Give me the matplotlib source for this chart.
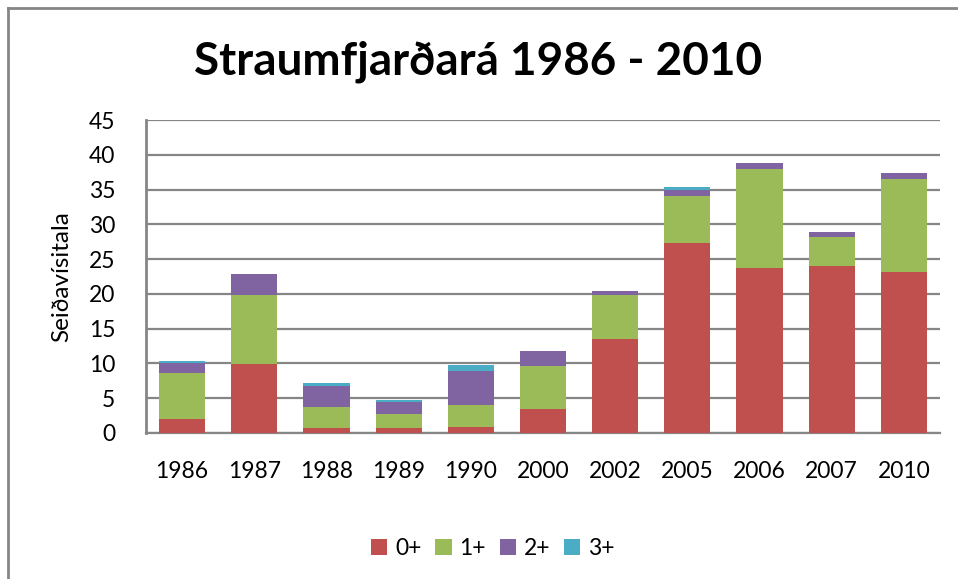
import matplotlib
matplotlib.use("Agg")
import matplotlib.pyplot as plt
import numpy as np

#------ data ------
years = ['1986', '1987', '1988', '1989', '1990', '2000', '2002', '2005', '2006', '2007', '2010']
age0 = [2.0, 9.9, 0.7, 0.7, 0.9, 3.45, 13.5, 27.3, 23.7, 24.0, 23.1]
age1 = [6.6, 9.9, 3.0, 2.0, 3.1, 6.15, 6.3, 6.8, 14.3, 4.2, 13.4]
age2 = [1.5, 3.1, 3.0, 1.75, 4.9, 2.2, 0.6, 0.8, 0.8, 0.7, 0.9]
age3 = [0.3, 0.0, 0.55, 0.3, 0.9, 0.0, 0.0, 0.5, 0.0, 0.0, 0.0]
series_names = ['0+', '1+', '2+', '3+']
colors = ['#C0504D', '#9BBB59', '#8064A2', '#4BACC6']

plt.rcParams['font.family'] = ['Lato', 'DejaVu Sans']

fig = plt.figure(figsize=(9.58, 5.79), dpi=100)
ax = fig.add_axes([0.1524, 0.2522, 0.8288, 0.5405])

x = np.arange(len(years))
bottom = np.zeros(len(years))
for vals, name, col in zip([age0, age1, age2, age3], series_names, colors):
    ax.bar(x, vals, width=0.64, bottom=bottom, color=col, label=name, zorder=3)
    bottom += np.array(vals)

ax.set_xlim(-0.5, len(years) - 0.5)
ax.set_ylim(0, 45)
ax.set_yticks(range(0, 46, 5))
ax.set_xticks(x)
ax.set_xticklabels(years)
ax.yaxis.grid(True, color='#868686', linewidth=1.6, zorder=0)
ax.tick_params(axis='both', length=0, labelsize=16.5, colors='#000000')
ax.tick_params(axis='x', pad=20)
ax.tick_params(axis='y', pad=22)

for s in ['top', 'right']:
    ax.spines[s].set_visible(False)
ax.spines['left'].set_color('#868686')
ax.spines['left'].set_linewidth(2)
ax.spines['bottom'].set_color('#868686')
ax.spines['bottom'].set_linewidth(1.6)

ax.set_ylabel('Seiðavísitala', fontsize=17.5, labelpad=12)

fig.text(0.499, 0.893, 'Straumfjarðará 1986 - 2010', ha='center', va='center',
         fontsize=33, fontweight='bold')

ax.legend(loc='upper center', bbox_to_anchor=(0.437, -0.27), ncol=4, frameon=False,
          fontsize=16.5, handlelength=0.7, handleheight=0.7, handletextpad=0.35,
          columnspacing=0.6)

# frame lines at top and left of the chart area
fig.add_artist(plt.Line2D([8 / 958, 8 / 958], [0, 1 - 8 / 579], color='#868686', linewidth=2,
                          transform=fig.transFigure))
fig.add_artist(plt.Line2D([8 / 958, 1], [1 - 8 / 579, 1 - 8 / 579], color='#868686', linewidth=2,
                          transform=fig.transFigure))

fig.savefig('out.png', dpi=100)
